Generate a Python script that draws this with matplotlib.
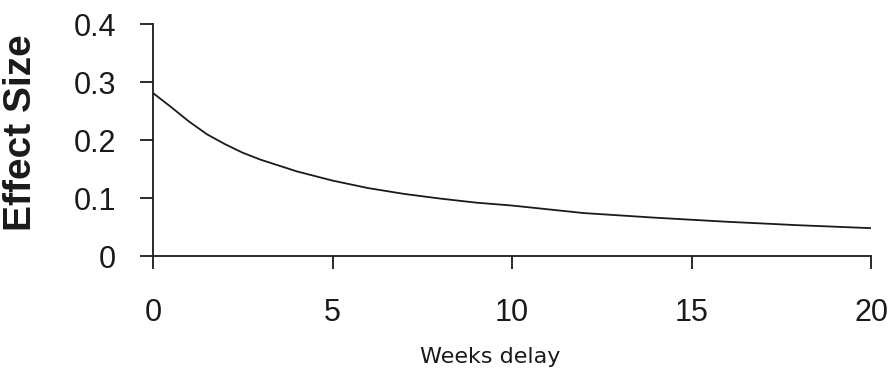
import matplotlib
matplotlib.use("Agg")
import matplotlib.pyplot as plt

weeks = [0, 0.5, 1, 1.5, 2, 2.5, 3, 4, 5, 6, 7, 8, 9, 10, 12, 14, 16, 18, 20]
effect = [0.281, 0.257, 0.232, 0.210, 0.193, 0.178, 0.166, 0.146, 0.130, 0.117,
          0.107, 0.099, 0.092, 0.087, 0.074, 0.066, 0.059, 0.053, 0.048]
xticks = [0, 5, 10, 15, 20]
yticks = [0, 0.1, 0.2, 0.3, 0.4]
yticklabels = ["0", "0.1", "0.2", "0.3", "0.4"]

fig = plt.figure(figsize=(8.92, 3.8), dpi=100)
ax = fig.add_axes([153 / 892, 1 - 256 / 380, 718 / 892, 232 / 380])
ax.plot(weeks, effect, color="#1a1a1a", linewidth=1.3)
ax.set_xlim(0, 20)
ax.set_ylim(0, 0.4)
ax.set_xticks(xticks)
ax.set_yticks(yticks)
ax.set_yticklabels(yticklabels)
for s in ["top", "right"]:
    ax.spines[s].set_visible(False)
for s in ["left", "bottom"]:
    ax.spines[s].set_linewidth(1.3)
    ax.spines[s].set_color("#1a1a1a")
ax.tick_params(axis="both", direction="out", length=9.5, width=1.3, color="#1a1a1a",
               labelcolor="#1a1a1a")
ax.tick_params(axis="x", pad=21, labelsize=22)
ax.tick_params(axis="y", pad=17, labelsize=22)
for lab in ax.get_xticklabels() + ax.get_yticklabels():
    lab.set_family("Liberation Sans")
fig.text(21 / 892, 1 - 133 / 380, "Effect Size", rotation=90, ha="center", va="center",
         fontsize=28, fontweight="bold", family="Liberation Sans", color="#1a1a1a")
fig.text(490 / 892, 1 - 357 / 380, "Weeks delay", ha="center", va="center",
         fontsize=16, family="DejaVu Sans", color="#1a1a1a")
fig.savefig("out.png", dpi=100)
